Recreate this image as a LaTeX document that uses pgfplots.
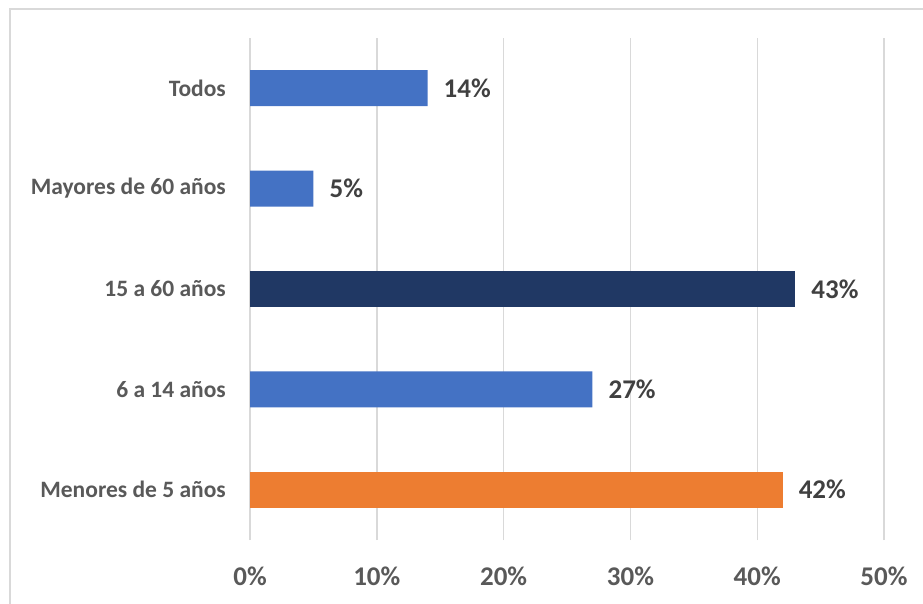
\documentclass[border=0pt]{standalone}
\usepackage{fontspec}
\setmainfont{Carlito}
\usepackage{pgfplots}
\pgfplotsset{compat=1.18}
\definecolor{barblue}{HTML}{4472C4}
\definecolor{barnavy}{HTML}{203864}
\definecolor{barorange}{HTML}{ED7D31}
\definecolor{labgray}{HTML}{595959}
\definecolor{valgray}{HTML}{404040}
\definecolor{gridgray}{HTML}{D9D9D9}
\begin{document}
\begin{tikzpicture}[x=1pt,y=1pt]
\useasboundingbox (0,0) rectangle (923,603);
\draw[color=gridgray,line width=1.5pt] (10,-5) -- (10,594) -- (930,594);
\begin{axis}[
  at={(250pt,63pt)}, anchor=south west,
  width=634pt, height=502pt, scale only axis,
  xbar, bar width=36pt, bar shift=0pt,
  xmin=0, xmax=50, ymin=-0.5, ymax=4.5,
  ytick={0,1,2,3,4},
  yticklabels={Menores de 5 años, 6 a 14 años, 15 a 60 años, Mayores de 60 años, Todos},
  xtick={0,10,20,30,40,50},
  xticklabels={0\%,10\%,20\%,30\%,40\%,50\%},
  axis line style={draw=none},
  major tick length=0pt,
  xmajorgrids,
  grid style={color=gridgray, line width=1.4pt},
  /pgf/number format/assume math mode=true,
  yticklabel style={font=\fontsize{23.5}{28}\selectfont\bfseries, text=labgray, inner sep=0pt, xshift=-24pt},
  xticklabel style={font=\fontsize{27}{32}\selectfont\bfseries, text=labgray, inner sep=0pt, yshift=-27pt},
  point meta=x,
  nodes near coords={\pgfmathprintnumber{\pgfplotspointmeta}\%},
  nodes near coords style={font=\fontsize{27}{32}\selectfont\bfseries, text=valgray, anchor=west, inner sep=0pt, xshift=16pt},
]
\addplot[fill=barblue, draw=none] coordinates {(14,4) (5,3) (27,1)};
\addplot[fill=barnavy, draw=none] coordinates {(43,2)};
\addplot[fill=barorange, draw=none] coordinates {(42,0)};
\end{axis}
\end{tikzpicture}
\end{document}
